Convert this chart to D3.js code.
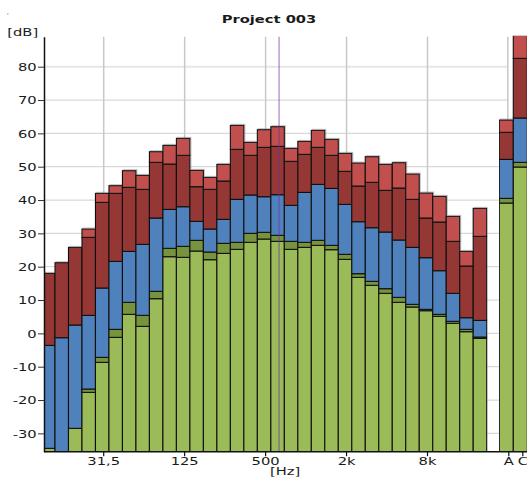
<!DOCTYPE html>
<html>
<head>
<meta charset="utf-8">
<script src="https://cdn.jsdelivr.net/npm/d3@7"></script>
<style>
  body { margin: 0; background: #fff; }
  text { font-family: "DejaVu Sans", Verdana, sans-serif; fill: #1a1a1a; }
</style>
</head>
<body>
<svg id="chart" width="527" height="477"></svg>
<script>
// third-octave bands, 12.5 Hz .. 20 kHz
const bands = ["12.5","16","20","25","31.5","40","50","63","80","100","125","160","200","250","315","400","500","630","800","1k","1.25k","1.6k","2k","2.5k","3.15k","4k","5k","6.3k","8k","10k","12.5k","16k","20k"];
const tickBands = ["31.5", "125", "500", "2k", "8k"];
const tickLabels = ["31,5", "125", "500", "2k", "8k"];
const markerBand = "630";
const yTicks = [-30, -20, -10, 0, 10, 20, 30, 40, 50, 60, 70, 80];

// top of each layer, in dB (layers stack: green, olive, blue, dark red, light red)
const green    = [-34.5, -36, -28.5, -17.7, -8.7, -1.2, 5.7, 2.1, 10.4, 23.0, 22.8, 24.7, 22.1, 24.0, 25.2, 27.3, 28.3, 27.6, 25.2, 25.8, 26.4, 25.1, 22.2, 16.8, 14.4, 12.0, 9.3, 7.9, 6.8, 5.1, 3.0, 0.5, -1.5];
const olive    = [-34.5, -36, -28.5, -16.7, -7.2, 1.2, 9.3, 5.4, 12.6, 25.5, 26.1, 27.9, 24.4, 27.0, 27.3, 30.0, 30.3, 29.4, 27.6, 27.3, 27.9, 26.4, 23.7, 17.9, 15.6, 13.4, 10.8, 8.7, 7.2, 5.7, 3.6, 1.2, -1.1];
const blue     = [-3.6, -1.3, 2.5, 5.4, 13.6, 21.6, 24.6, 26.7, 34.6, 37.2, 38.0, 33.6, 31.3, 34.2, 40.2, 41.5, 41.0, 41.6, 38.4, 42.3, 44.7, 43.5, 38.7, 33.5, 31.7, 30.4, 28.0, 25.8, 22.7, 18.8, 12.0, 4.7, 3.9];
const darkRed  = [18.0, 21.2, 25.8, 28.8, 39.3, 42.0, 43.8, 43.2, 51.3, 50.8, 53.4, 44.0, 43.2, 45.7, 55.2, 53.4, 55.8, 56.1, 51.6, 53.7, 55.8, 53.4, 48.6, 44.2, 45.3, 42.9, 43.6, 40.2, 34.6, 33.4, 27.6, 20.2, 29.1];
const lightRed = [18.0, 21.2, 25.8, 31.3, 42.0, 44.3, 48.8, 47.4, 54.5, 56.4, 58.5, 48.9, 46.8, 50.7, 62.4, 57.3, 61.1, 62.0, 55.5, 57.6, 60.9, 58.2, 54.0, 51.1, 53.0, 50.7, 51.2, 47.8, 42.1, 41.1, 35.1, 24.6, 37.5];

// A / C weighted totals
const sumBands = ["A", "C"];
const sumGreen    = [39.1, 49.9];
const sumOlive    = [40.5, 51.3];
const sumBlue     = [52.2, 64.6];
const sumDarkRed  = [60.3, 82.5];
const sumLightRed = [64.0, 89.5];

const colors = ["#9bbb59", "#77933c", "#4f81bd", "#953735", "#c0504d"];
const sx = 1.4; // the text in the original is stretched sideways

const svg = d3.select("#chart");
const plotTop = 36.7, plotBottom = 451.7, plotLeft = 44;

const y = d3.scaleLinear().domain([-35.5, 89]).range([plotBottom, plotTop]);
const x = d3.scaleBand().domain(bands).range([41.5, 486.7]).padding(0);
const xs = d3.scaleBand().domain(sumBands).range([499.3, 527.3]).padding(0);
const tickShift = 1.5;

const defs = svg.append("defs");
defs.append("clipPath").attr("id", "clipMain")
    .append("rect").attr("x", plotLeft).attr("y", plotTop).attr("width", 486.7 - plotLeft + 1).attr("height", plotBottom - plotTop);
defs.append("clipPath").attr("id", "clipSum")
    .append("rect").attr("x", 499).attr("y", plotTop - 1).attr("width", 30).attr("height", plotBottom - plotTop + 1);
defs.append("filter").attr("id", "shadow").attr("x", "-10%").attr("y", "-10%").attr("width", "120%").attr("height", "120%")
    .append("feDropShadow").attr("dx", 1).attr("dy", -1).attr("stdDeviation", 0.6)
    .attr("flood-color", "#888").attr("flood-opacity", 0.5);

// horizontal grid
svg.append("g").selectAll("line")
    .data(yTicks)
    .enter().append("line")
    .attr("x1", plotLeft).attr("x2", 508.3)
    .attr("y1", d => y(d)).attr("y2", d => y(d))
    .attr("stroke", d => d === 80 ? "#e6e6e6" : "#d9d9d9")
    .attr("stroke-width", d => d === 80 ? 2 : 1.2);

// vertical grid
svg.append("g").selectAll("line")
    .data(tickBands)
    .enter().append("line")
    .attr("x1", d => x(d) + x.bandwidth() / 2 + tickShift)
    .attr("x2", d => x(d) + x.bandwidth() / 2 + tickShift)
    .attr("y1", plotTop).attr("y2", plotBottom)
    .attr("stroke", "#c8c8c8").attr("stroke-width", 1.5);
svg.append("line")
    .attr("x1", xs("A") + xs.bandwidth() / 2 + 1.5).attr("x2", xs("A") + xs.bandwidth() / 2 + 1.5)
    .attr("y1", plotTop).attr("y2", plotBottom)
    .attr("stroke", "#c8c8c8").attr("stroke-width", 1.5);

// build stacked segments
function segments(layers, n) {
    const out = [];
    for (let i = 0; i < n; i++) {
        let prev = -40;
        layers.forEach((arr, k) => {
            const v = arr[i];
            if (v > prev) out.push({ i, k, y0: prev, y1: v });
            prev = Math.max(prev, v);
        });
    }
    return out;
}

const mainSegs = segments([green, olive, blue, darkRed, lightRed], bands.length);
const sumSegs = segments([sumGreen, sumOlive, sumBlue, sumDarkRed, sumLightRed], sumBands.length);

svg.append("g").attr("clip-path", "url(#clipMain)")
  .append("g").attr("filter", "url(#shadow)")
    .selectAll("rect")
    .data(mainSegs)
    .enter().append("rect")
    .attr("x", d => x(bands[d.i]))
    .attr("width", x.bandwidth())
    .attr("y", d => y(d.y1))
    .attr("height", d => y(d.y0) - y(d.y1))
    .attr("fill", d => colors[d.k])
    .attr("stroke", "#111").attr("stroke-width", 1.1);

svg.append("g").attr("clip-path", "url(#clipSum)")
  .append("g").attr("filter", "url(#shadow)")
    .selectAll("rect")
    .data(sumSegs)
    .enter().append("rect")
    .attr("x", d => xs(sumBands[d.i]))
    .attr("width", xs.bandwidth())
    .attr("y", d => y(d.y1))
    .attr("height", d => y(d.y0) - y(d.y1))
    .attr("fill", d => colors[d.k])
    .attr("stroke", "#111").attr("stroke-width", 1.1);

// marker line at 630 Hz
svg.append("line")
    .attr("x1", x(markerBand) + x.bandwidth() / 2 + tickShift)
    .attr("x2", x(markerBand) + x.bandwidth() / 2 + tickShift)
    .attr("y1", plotTop).attr("y2", plotBottom)
    .attr("stroke", "#7030a0").attr("stroke-opacity", 0.45).attr("stroke-width", 1.6);

// y axis
const yAxis = svg.append("g")
    .attr("transform", `translate(${plotLeft},0)`)
    .call(d3.axisLeft(y).tickValues(yTicks).tickFormat(d => String(d)).tickSize(6).tickSizeOuter(0));
yAxis.select(".domain").attr("stroke", "#111").attr("stroke-width", 1.5);
yAxis.selectAll(".tick line").attr("stroke", "#333");
yAxis.selectAll("text")
    .attr("x", 0).attr("dy", "0.36em")
    .attr("transform", `translate(-7.3,0) scale(${sx},1)`)
    .style("font-size", "10.5px").attr("fill", "#1a1a1a");

// x axes
svg.append("line")
    .attr("x1", plotLeft).attr("x2", 527).attr("y1", plotBottom).attr("y2", plotBottom)
    .attr("stroke", "#111").attr("stroke-width", 1.5);

const xAxis = svg.append("g")
    .attr("transform", `translate(${tickShift},${plotBottom})`)
    .call(d3.axisBottom(x).tickValues(tickBands)
        .tickFormat(d => tickLabels[tickBands.indexOf(d)]).tickSize(4.5).tickSizeOuter(0));
const sAxis = svg.append("g")
    .attr("transform", `translate(2.5,${plotBottom})`)
    .call(d3.axisBottom(xs).tickSize(4.5).tickSizeOuter(0));
[xAxis, sAxis].forEach(g => {
    g.select(".domain").remove();
    g.selectAll(".tick line").attr("stroke", "#111").attr("stroke-width", 1.2);
    g.selectAll("text")
        .attr("y", 0).attr("dy", 0)
        .attr("transform", `translate(0,13) scale(${sx},1)`)
        .style("font-size", "10.5px").attr("fill", "#1a1a1a");
});

// labels
function label(txt, px, py, anchor, weight) {
    svg.append("text")
        .attr("transform", `translate(${px},${py}) scale(${sx},1)`)
        .attr("text-anchor", anchor)
        .style("font-size", "10.5px")
        .style("font-weight", weight || "normal")
        .text(txt);
}
label("Project 003", 269, 23.3, "middle", "bold");
label("[dB]", 7.3, 35.5, "start");
label("[Hz]", 285, 474.5, "middle");

svg.append("rect").attr("x", 7).attr("y", 13.5).attr("width", 1.5).attr("height", 1).attr("fill", "#999");
</script>
</body>
</html>
